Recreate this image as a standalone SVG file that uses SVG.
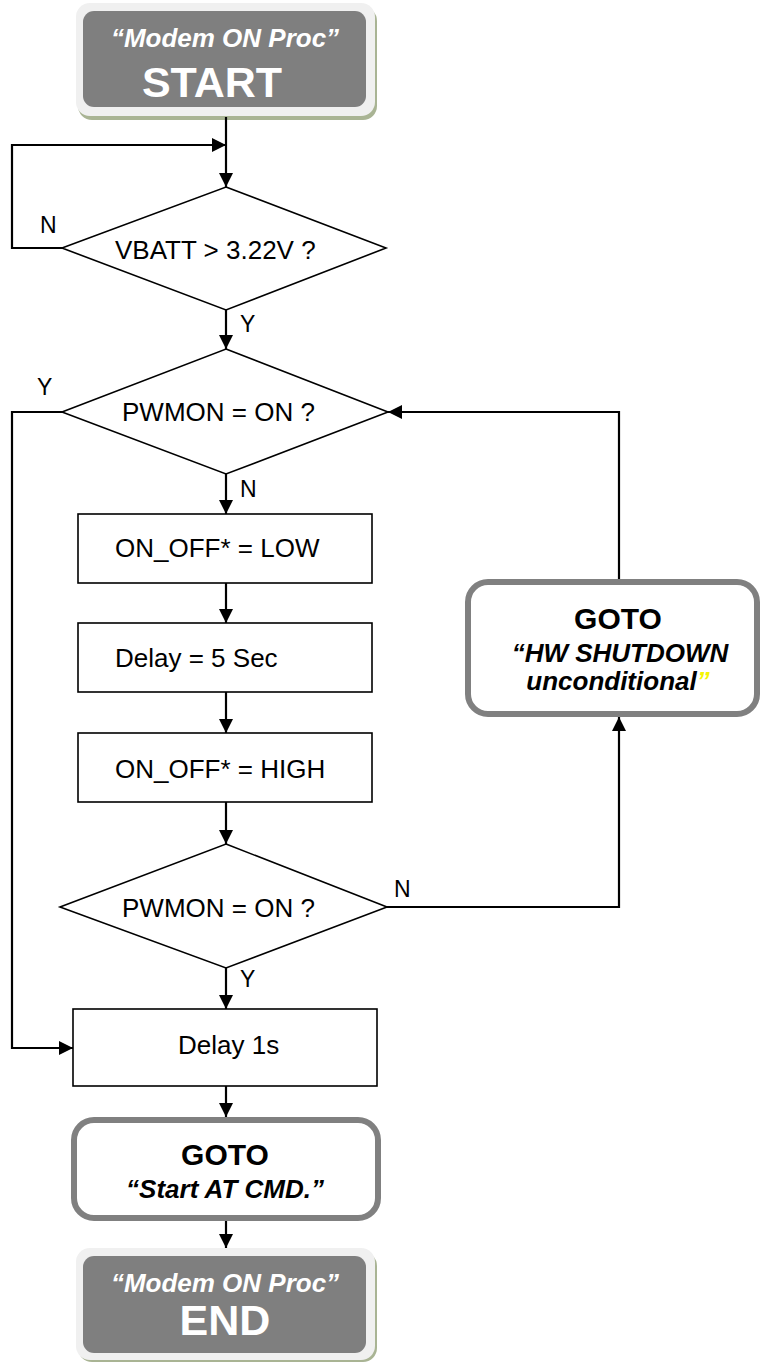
<svg xmlns="http://www.w3.org/2000/svg" width="761" height="1362" viewBox="0 0 761 1362">
<defs>
<marker id="arr" markerUnits="userSpaceOnUse" markerWidth="14" markerHeight="14" refX="14" refY="7" orient="auto">
<path d="M0,0 L14,7 L0,14 Z" fill="#000"/>
</marker>
<style>
.t{font-family:"Liberation Sans",Arial,sans-serif;font-size:26px;fill:#000}
.lbl{font-family:"Liberation Sans",Arial,sans-serif;font-size:23px;fill:#000}
.shape{fill:#fff;stroke:#000;stroke-width:1.6}
.goto{fill:#fff;stroke:#808080;stroke-width:6}
.gb{font-family:"Liberation Sans",Arial,sans-serif;font-weight:bold;font-size:30px;fill:#000;text-anchor:middle}
.gi{font-family:"Liberation Sans",Arial,sans-serif;font-weight:bold;font-style:italic;font-size:26px;fill:#000;text-anchor:middle}
.wi{font-family:"Liberation Sans",Arial,sans-serif;font-weight:bold;font-style:italic;font-size:26px;fill:#fff;text-anchor:middle}
.wb{font-family:"Liberation Sans",Arial,sans-serif;font-weight:bold;font-size:43px;fill:#fff;text-anchor:middle}
.conn{fill:none;stroke:#000;stroke-width:2.2}
</style>
</defs>
<rect width="761" height="1362" fill="#fff"/>

<g id="start">
<rect x="78" y="7" width="299" height="113" rx="14" fill="#a9b494"/>
<rect x="76" y="3" width="299" height="113" rx="14" fill="#f0f0f0"/>
<rect x="83" y="11" width="283" height="96" rx="11" fill="#7f7f7f"/>
<text class="wi" x="225" y="47">“Modem ON Proc”</text>
<text class="wb" x="212" y="97">START</text>
</g>

<g id="d_vbatt">
<polygon class="shape" points="226,187 386,248 226,310 62,248"/>
<text class="t" x="115" y="259">VBATT &gt; 3.22V ?</text>
</g>

<g id="d_pwmon1">
<polygon class="shape" points="226,349 388,412 226,474 62,412"/>
<text class="t" x="122" y="421">PWMON = ON ?</text>
</g>

<g id="b_low">
<rect class="shape" x="78" y="514" width="294" height="69"/>
<text class="t" x="115" y="557">ON_OFF* = LOW</text>
</g>

<g id="b_delay5">
<rect class="shape" x="78" y="623" width="294" height="69"/>
<text class="t" x="115" y="667">Delay = 5 Sec</text>
</g>

<g id="b_high">
<rect class="shape" x="78" y="733" width="294" height="69"/>
<text class="t" x="115" y="778">ON_OFF* = HIGH</text>
</g>

<g id="d_pwmon2">
<polygon class="shape" points="226,844 387,907 226,968 60,907"/>
<text class="t" x="122" y="917">PWMON = ON ?</text>
</g>

<g id="goto_hw">
<rect class="goto" x="468" y="582" width="289" height="132" rx="20"/>
<text class="gb" x="618" y="629">GOTO</text>
<text class="gi" x="620" y="662">“HW SHUTDOWN</text>
<text class="gi" x="618" y="690">unconditional<tspan fill="#f5f500">”</tspan></text>
</g>

<g id="b_delay1">
<rect class="shape" x="73" y="1009" width="304" height="77"/>
<text class="t" x="178" y="1054">Delay 1s</text>
</g>

<g id="goto_at">
<rect class="goto" x="74" y="1120" width="304" height="98" rx="20"/>
<text class="gb" x="225" y="1165">GOTO</text>
<text class="gi" x="225" y="1198">“Start AT CMD.”</text>
</g>

<g id="end">
<rect x="78" y="1252" width="299" height="110" rx="14" fill="#a9b494"/>
<rect x="76" y="1248" width="299" height="112" rx="14" fill="#f0f0f0"/>
<rect x="83" y="1256" width="283" height="97" rx="11" fill="#7f7f7f"/>
<text class="wi" x="225" y="1292">“Modem ON Proc”</text>
<text class="wb" x="225" y="1335">END</text>
</g>

<g id="connectors">
<line class="conn" x1="226" y1="117" x2="226" y2="187" marker-end="url(#arr)"/>
<polyline class="conn" points="62,248 12,248 12,145 226,145" marker-end="url(#arr)"/>
<line class="conn" x1="226" y1="310" x2="226" y2="349" marker-end="url(#arr)"/>
<line class="conn" x1="226" y1="474" x2="226" y2="514" marker-end="url(#arr)"/>
<line class="conn" x1="226" y1="583" x2="226" y2="623" marker-end="url(#arr)"/>
<line class="conn" x1="226" y1="692" x2="226" y2="733" marker-end="url(#arr)"/>
<line class="conn" x1="226" y1="802" x2="226" y2="844" marker-end="url(#arr)"/>
<line class="conn" x1="226" y1="968" x2="226" y2="1009" marker-end="url(#arr)"/>
<polyline class="conn" points="62,412 12,412 12,1048 73,1048" marker-end="url(#arr)"/>
<polyline class="conn" points="387,907 619,907 619,717" marker-end="url(#arr)"/>
<polyline class="conn" points="619,579 619,412 388,412" marker-end="url(#arr)"/>
<line class="conn" x1="226" y1="1086" x2="226" y2="1117" marker-end="url(#arr)"/>
<line class="conn" x1="226" y1="1221" x2="226" y2="1248" marker-end="url(#arr)"/>
<text class="lbl" x="40" y="233">N</text>
<text class="lbl" x="240" y="332">Y</text>
<text class="lbl" x="37" y="395">Y</text>
<text class="lbl" x="240" y="497">N</text>
<text class="lbl" x="394" y="897">N</text>
<text class="lbl" x="240" y="987">Y</text>
</g>
</svg>
